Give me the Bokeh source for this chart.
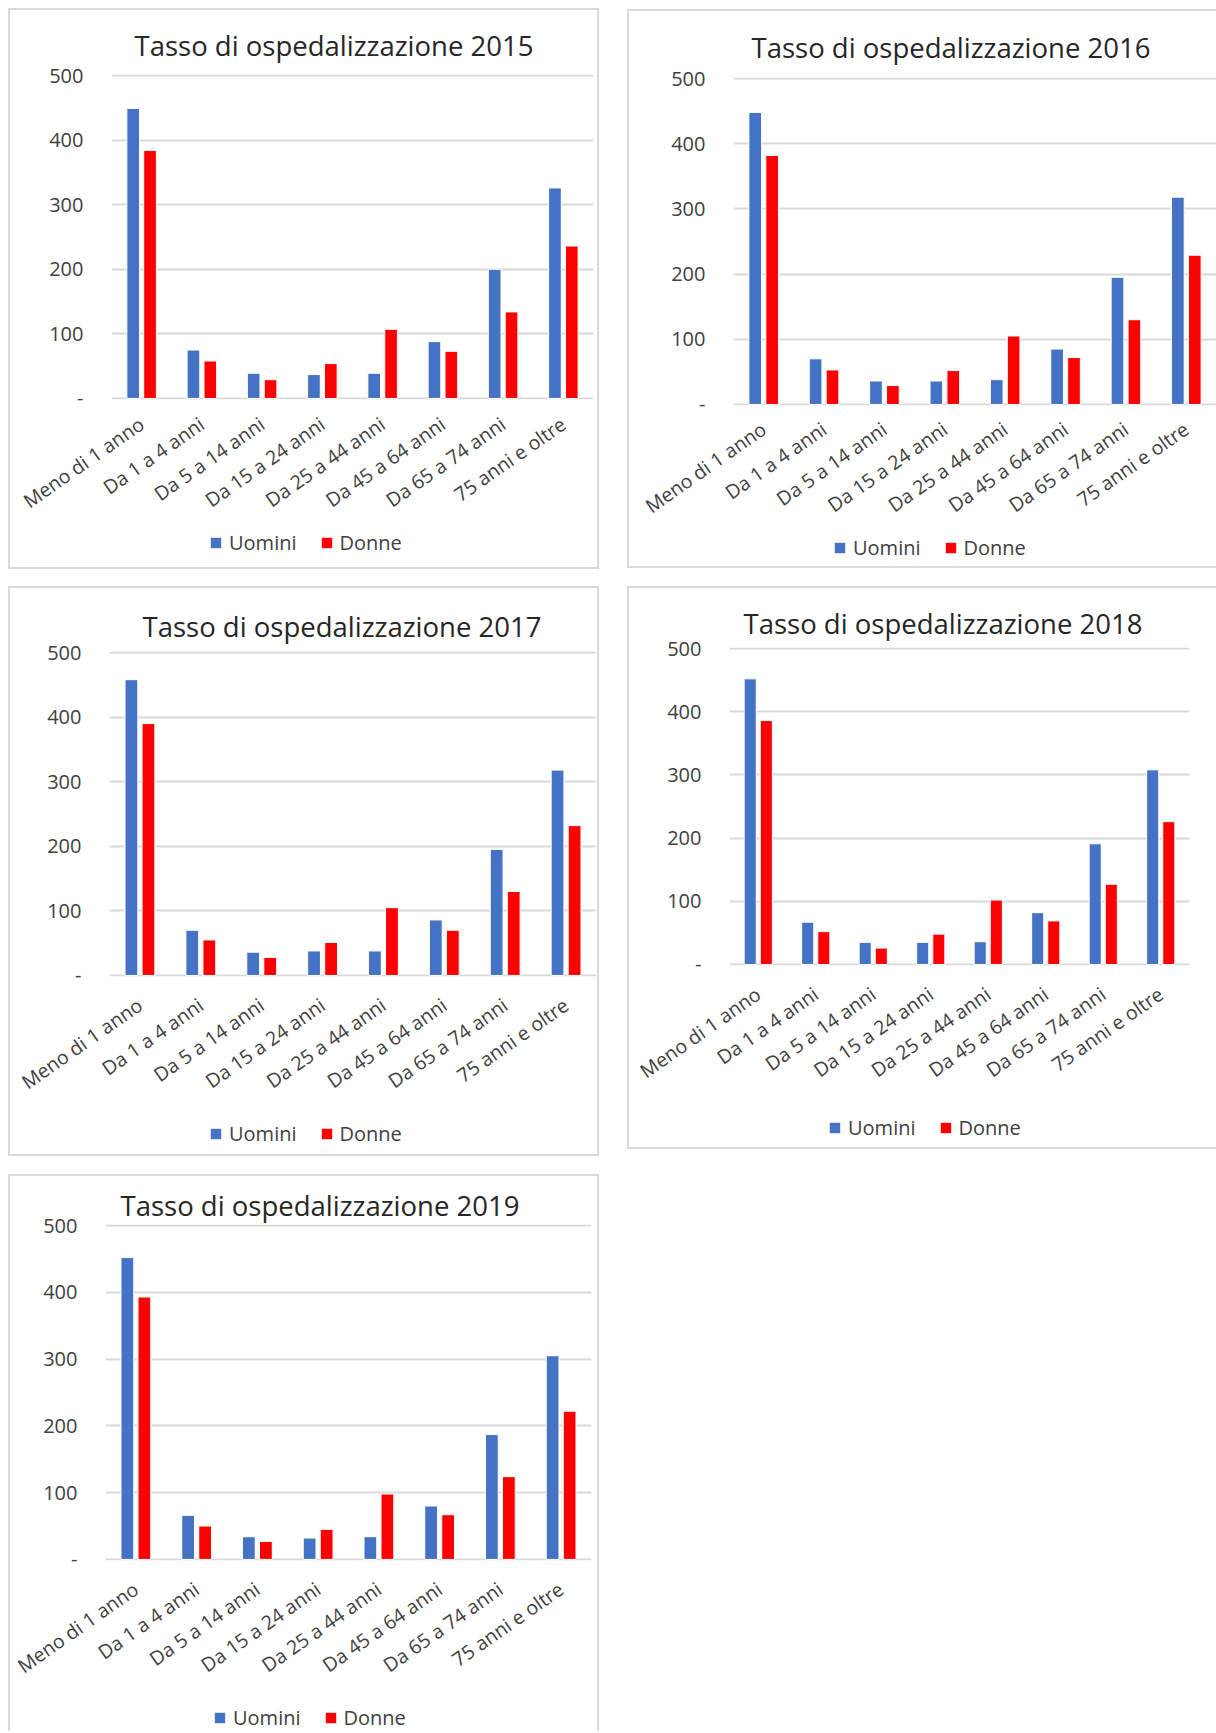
from bokeh.plotting import figure
from bokeh.layouts import row, column
from bokeh.models import (ColumnDataSource, FactorRange, Range1d, FixedTicker,
                          Legend, LegendItem)
from bokeh.transform import dodge
from bokeh.embed import file_html
from bokeh.resources import INLINE

categories = ["Meno di 1 anno", "Da 1 a 4 anni", "Da 5 a 14 anni", "Da 15 a 24 anni",
              "Da 25 a 44 anni", "Da 45 a 64 anni", "Da 65 a 74 anni", "75 anni e oltre"]

uomini_2015 = [449, 75, 39, 37, 39, 88, 200, 326]
donne_2015 = [384, 58, 29, 54, 107, 73, 134, 236]
uomini_2016 = [448, 70, 36, 36, 38, 85, 195, 318]
donne_2016 = [382, 53, 29, 52, 105, 72, 130, 229]
uomini_2017 = [458, 70, 36, 38, 38, 86, 195, 318]
donne_2017 = [390, 55, 28, 51, 105, 70, 130, 232]
uomini_2018 = [452, 67, 35, 35, 36, 82, 191, 308]
donne_2018 = [386, 52, 26, 48, 102, 69, 127, 226]
uomini_2019 = [452, 66, 34, 32, 34, 80, 187, 305]
donne_2019 = [393, 50, 27, 45, 98, 67, 124, 222]

y_ticks = [0, 100, 200, 300, 400, 500]
y_tick_labels = {0: "-", 100: "100", 200: "200", 300: "300", 400: "400", 500: "500"}
series_names = ["Uomini", "Donne"]

FONT = "Open Sans"
BLUE = "#4472C4"
RED = "#FF0000"
GRID = "#D9D9D9"
TXT = "#404040"
BORDER = "2px solid #D9D9D9"
LEG_H = 28


def make_chart(src, year, w, h, left, right, top, bottom, title_off,
               title_standoff, label_standoff):
    p = figure(width=w, height=h, x_range=FactorRange(*categories),
               y_range=Range1d(-1.6, 501.6), output_backend="svg",
               toolbar_location=None, min_border_left=left,
               min_border_right=right, min_border_top=top - 1,
               min_border_bottom=bottom - 1)
    p.vbar(x=dodge("cat", -0.14, range=p.x_range), top="u", width=0.21,
           source=src, fill_color=BLUE, line_color="white", line_width=1)
    p.vbar(x=dodge("cat", 0.14, range=p.x_range), top="d", width=0.21,
           source=src, fill_color=RED, line_color="white", line_width=1)
    p.title.text = "Tasso di ospedalizzazione " + year
    p.title.text_font = FONT
    p.title.text_font_size = "27.5px"
    p.title.text_font_style = "normal"
    p.title.text_color = "#262626"
    p.title.align = "left"
    p.title.offset = title_off
    p.title.standoff = title_standoff

    p.outline_line_color = None
    p.xgrid.grid_line_color = None
    p.ygrid.grid_line_color = GRID
    p.ygrid.grid_line_width = 2

    p.yaxis.ticker = FixedTicker(ticks=y_ticks)
    p.yaxis.major_label_overrides = y_tick_labels
    p.yaxis.axis_line_color = None
    p.yaxis.major_tick_line_color = None
    p.yaxis.minor_tick_line_color = None
    p.yaxis.major_label_standoff = 22
    p.yaxis.major_label_text_font = FONT
    p.yaxis.major_label_text_font_size = "20px"
    p.yaxis.major_label_text_color = TXT

    p.xaxis.axis_line_color = None
    p.xaxis.major_tick_line_color = None
    p.xaxis.minor_tick_line_color = None
    p.xaxis.major_label_orientation = 0.61
    p.xaxis.major_label_standoff = label_standoff
    p.xaxis.major_label_text_font = FONT
    p.xaxis.major_label_text_font_size = "19.5px"
    p.xaxis.major_label_text_color = TXT
    return p


def make_legend(src, w, x, mb):
    # legend strip under the chart; its proxy bars have zero width and lie
    # outside the visible y range, so only the legend entries show
    q = figure(width=w, height=LEG_H, x_range=FactorRange(*categories),
               y_range=Range1d(-100000, -99999), output_backend="svg",
               toolbar_location=None, x_axis_location=None,
               y_axis_location=None, min_border=0)
    q.outline_line_color = None
    q.xgrid.visible = False
    q.ygrid.visible = False
    l1 = q.vbar(x="cat", top="u", width=0, source=src,
                fill_color=BLUE, line_color=None)
    l2 = q.vbar(x="cat", top="d", width=0, source=src,
                fill_color=RED, line_color=None)
    legend = Legend(items=[LegendItem(label=series_names[0], renderers=[l1]),
                           LegendItem(label=series_names[1], renderers=[l2])],
                    orientation="horizontal", location=(x, 0),
                    glyph_width=13, glyph_height=13, label_standoff=7,
                    spacing=23, padding=0, margin=0,
                    border_line_color=None, background_fill_alpha=0,
                    label_text_font=FONT, label_text_font_size="20px",
                    label_text_color=TXT)
    q.add_layout(legend, "center")
    q.margin = (0, 0, mb, 0)
    return q


def panel(year, uomini, donne, geom, leg_x, mb, style):
    src = ColumnDataSource(dict(cat=categories, u=uomini, d=donne))
    chart = make_chart(src, year, *geom)
    leg = make_legend(src, geom[0], leg_x, mb)
    return column(chart, leg, styles=style)


full_border = {"border": BORDER}
no_right = {"border": BORDER, "border-right": "none"}
no_bottom = {"border": BORDER, "border-bottom": "none"}

# (width, height, min_border left, right, top, bottom, title offset, title standoff, label standoff)
g1 = panel("2015", uomini_2015, donne_2015, (587, 518, 101, 4, 65, 130, 23, 22, 16), 98, 11, full_border)
g2 = panel("2016", uomini_2016, donne_2016, (587, 522, 104, 0, 67, 129, 18, 24, 15), 100, 5, no_right)
g3 = panel("2017", uomini_2017, donne_2017, (587, 531, 99, 1, 64, 144, 33, 13, 20), 100, 7, full_border)
g4 = panel("2018", uomini_2018, donne_2018, (587, 525, 100, 27, 60, 149, 14, 11, 20), 99, 6, no_right)
g5 = panel("2019", uomini_2019, donne_2019, (587, 527, 95, 6, 49, 144, 15, 2, 20), 108, 0, no_bottom)

g1.margin = (0, 0, 17, 0)
g3.margin = (0, 0, 18, 0)
g2.margin = (1, 0, 18, 0)

left_col = column(g1, g3, g5)
right_col = column(g2, g4)
right_col.margin = (0, 0, 0, 28)
layout = row(left_col, right_col)
layout.margin = (8, 0, 0, 8)

open("out.html", "w").write(file_html(layout, INLINE))
